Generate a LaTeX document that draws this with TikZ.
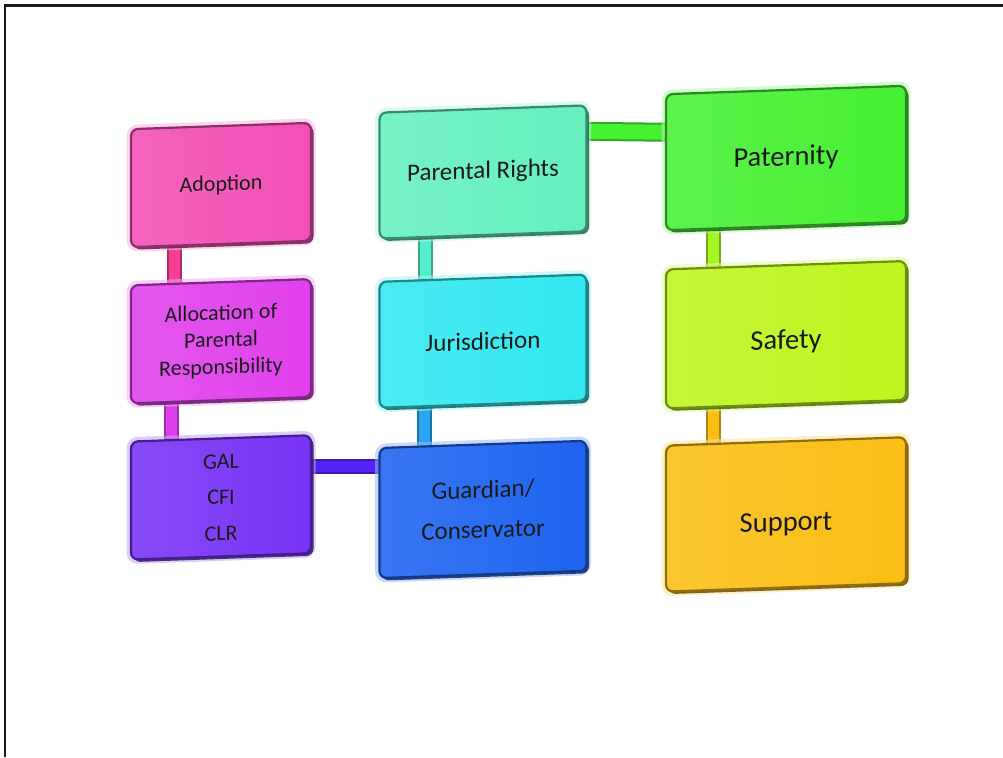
\documentclass[tikz,border=0pt]{standalone}
\usepackage{fontspec}
\setmainfont{Carlito}
\usepackage{xcolor}
\usetikzlibrary{positioning,shadows,backgrounds}

\definecolor{adoptcol}{HTML}{F24FB6}
\definecolor{alloccol}{HTML}{E040EC}
\definecolor{galcol}{HTML}{7832F5}
\definecolor{prcol}{HTML}{64F0BE}
\definecolor{jurcol}{HTML}{32E8F0}
\definecolor{guardcol}{HTML}{1E64F0}
\definecolor{patcol}{HTML}{46F032}
\definecolor{safecol}{HTML}{BEF51E}
\definecolor{supcol}{HTML}{FABE14}
\definecolor{framecol}{HTML}{1A1A1A}

\tikzset{
  tile/.style={draw=#1!58!black, line width=2.2pt, rounded corners=7pt,
    left color=#1!88!white, right color=#1, text=black!90,
    align=center, inner sep=4pt, transform shape, yslant=0.035,
    preaction={draw=#1!45, line width=9pt, draw opacity=.55},
    drop shadow={shadow xshift=2.5pt, shadow yshift=-2.5pt,
      fill=#1!40!black, opacity=.85}},
  leftcol/.style={minimum width=180pt, minimum height=118pt,
    font=\fontsize{22}{27}\selectfont},
  midcol/.style={minimum width=207pt, minimum height=126pt,
    font=\fontsize{25}{30}\selectfont},
  rightcol/.style={minimum width=240pt,
    font=\fontsize{28.5}{34}\selectfont},
  link/.style={draw=#1!70!black, double=#1, double distance=11pt,
    line width=2pt, shorten <=-9pt, shorten >=-9pt},
}

\begin{document}
\begin{tikzpicture}[x=1pt,y=1pt]
    \useasboundingbox (0,0) rectangle (1003,-757);
    \draw[framecol, line width=2.6pt] (5,-757) -- (5,-5.5) -- (1003,-5.5);

    % left column
    \node[tile=adoptcol, leftcol] (adopt) at (221,-185) {Adoption};
    \node[tile=alloccol, leftcol] (alloc) [below=36pt of adopt]
        {Allocation of\\Parental\\Responsibility};
    \node[tile=galcol, leftcol] (gal) [below=36pt of alloc]
        {GAL\\[9pt]CFI\\[9pt]CLR};

    % middle column
    \node[tile=prcol, midcol] (rights) at (483,-172) {Parental Rights};
    \node[tile=jurcol, midcol] (juris) [below=41pt of rights] {Jurisdiction};
    \node[tile=guardcol, midcol, minimum height=130pt] (guard) [below=38pt of juris]
        {Guardian/\\[10pt]Conservator};

    % right column
    \node[tile=patcol, rightcol, minimum height=136pt] (pater) at (786,-158) {Paternity};
    \node[tile=safecol, rightcol, minimum height=139pt] (safety) [below=37pt of pater]
        {\raisebox{-7pt}[\height][\depth]{Safety}};
    \node[tile=supcol, rightcol, minimum height=146pt] (support) [below=35pt of safety]
        {\raisebox{-10pt}[\height][\depth]{Support}};

    % bars between the tiles
    \begin{scope}[on background layer]
        \draw[link=adoptcol!80!red] ([xshift=45pt]adopt.south west)
            -- ([xshift=45pt]alloc.north west);
        \draw[link=alloccol] ([xshift=42pt]alloc.south west)
            -- ([xshift=42pt]gal.north west);
        \draw[link=galcol!70!blue] ([yshift=28pt]gal.east)
            -- ([yshift=28pt]gal.east -| guard.west);
        \draw[link=prcol!70!jurcol] ([xshift=47pt]rights.south west)
            -- ([xshift=47pt]juris.north west);
        \draw[link=jurcol!50!guardcol] ([xshift=46pt]juris.south west)
            -- ([xshift=46pt]guard.north west);
        \draw[link=patcol, double distance=15pt] ([yshift=37pt]rights.east)
            -- ([yshift=30pt]pater.west);
        \draw[link=safecol!80!patcol] ([xshift=49pt]pater.south west)
            -- ([xshift=49pt]safety.north west);
        \draw[link=supcol] ([xshift=49pt]safety.south west)
            -- ([xshift=49pt]support.north west);
    \end{scope}
\end{tikzpicture}
\end{document}
